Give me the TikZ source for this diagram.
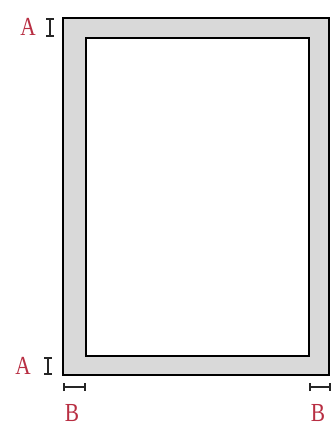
\documentclass[tikz,border=0pt]{standalone}
\usepackage{fontspec}
\setmainfont{Liberation Serif}
\usepackage{xcolor}
\usetikzlibrary{arrows.meta}
\definecolor{marginred}{rgb}{0.72, 0.18, 0.26}
\definecolor{margingray}{rgb}{0.85, 0.85, 0.85}
\tikzset{
  lbl/.style={text=marginred, inner sep=0pt, font=\fontsize{26}{26}\selectfont, xscale=0.82, transform shape},
  gap/.style={line width=1.6pt, {Bar[width=8pt]}-{Bar[width=8pt]}, black!85}
}

\begin{document}
\begin{tikzpicture}[x=1pt,y=-1pt]
\useasboundingbox (0,0) rectangle (331,429);
% Sheet and printable area
\draw[line width=1.6pt,fill=margingray] (63,18) rectangle (329,375);
\draw[line width=1.6pt,fill=white] (86,38) rectangle (309,356);
\coordinate (topA1) at (50,18);
\coordinate (topA2) at (50,37);
\coordinate (botA1) at (48,357);
\coordinate (botA2) at (48,375);
\coordinate (leftB1) at (63,387);
\coordinate (leftB2) at (86,387);
\coordinate (rightB1) at (309,387);
\coordinate (rightB2) at (331,387);
% A margins
\draw[gap] (topA1) -- (topA2);
\draw[gap] (botA1) -- (botA2);
\node[lbl] (labA1) at (28,27) {A};
\node[lbl] (labA2) at (23,366) {A};
% B margins
\draw[gap] (leftB1) -- (leftB2);
\draw[gap] (rightB1) -- (rightB2);
\node[lbl] (labB1) at (72,413) {B};
\node[lbl] (labB2) at (318,413) {B};
\end{tikzpicture}
\end{document}
